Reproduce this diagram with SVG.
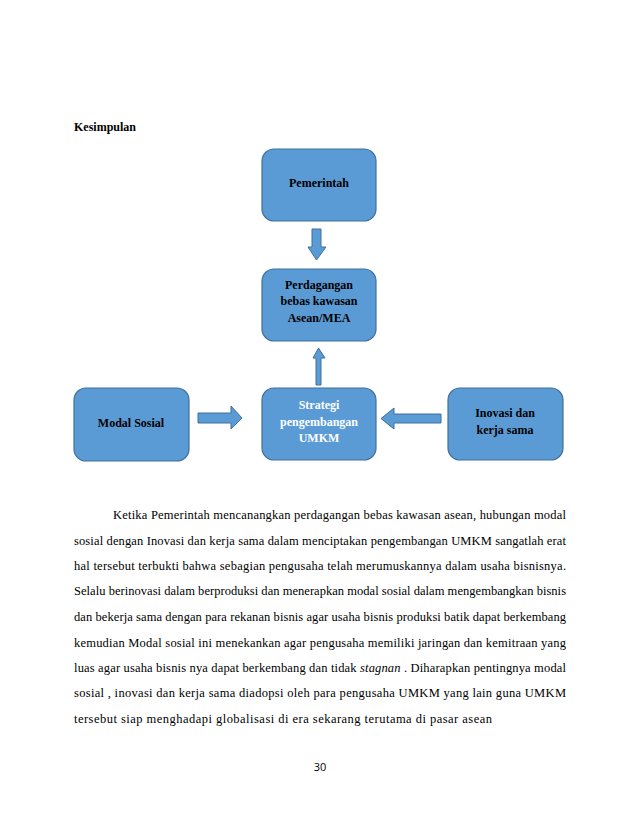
<svg xmlns="http://www.w3.org/2000/svg" width="638" height="826" viewBox="0 0 638 826">
<style>
.box{fill:#5B9BD5;stroke:#41719C;stroke-width:1.2}
.arr{fill:#5B9BD5;stroke:#41719C;stroke-width:1}
.nt{font-family:"Liberation Serif","Times New Roman",serif;font-size:12px;font-weight:bold;fill:#000;text-anchor:middle}
.wt{fill:#fff}
.p{font-family:"Liberation Serif","Times New Roman",serif;font-size:12.5px;fill:#000}
</style>
<rect width="638" height="826" fill="#fff"/>
<text x="74" y="131" font-family="Liberation Serif, Times New Roman, serif" font-size="12" font-weight="bold">Kesimpulan</text>
<g id="connectors">
<polygon class="arr" points="312,229 321,229 321,247 326,247 316.5,260 308,247 312,247"/>
<polygon class="arr" points="316,385 321,385 321,358 325,358 318.5,348 313,358 316,358"/>
<polygon class="arr" points="198,413 231,413 231,406 242,418 231,429 231,423 198,423"/>
<polygon class="arr" points="441,414 394,414 394,408 381,418.5 394,429 394,423 441,423"/>
</g>
<g id="pemerintah"><rect class="box" x="262" y="149" width="114" height="72" rx="12"/><text class="nt" x="319" y="187">Pemerintah</text></g>
<g id="perdagangan"><rect class="box" x="262" y="269" width="114" height="72" rx="12"/><text class="nt" x="319" y="289">Perdagangan</text><text class="nt" x="319" y="305">bebas kawasan</text><text class="nt" x="319" y="322">Asean/MEA</text></g>
<g id="strategi"><rect class="box" x="262" y="388" width="114" height="72" rx="12"/><text class="nt wt" x="319" y="409">Strategi</text><text class="nt wt" x="319" y="426">pengembangan</text><text class="nt wt" x="319" y="442">UMKM</text></g>
<g id="modal"><rect class="box" x="74" y="388" width="115" height="73" rx="12"/><text class="nt" x="131" y="427">Modal Sosial</text></g>
<g id="inovasi"><rect class="box" x="448" y="388" width="115" height="72" rx="12"/><text class="nt" x="505" y="417">Inovasi dan</text><text class="nt" x="505" y="434">kerja sama</text></g>
<g id="paragraph">
<text class="p" x="113" y="519" textLength="453" lengthAdjust="spacing">Ketika Pemerintah mencanangkan perdagangan bebas kawasan asean, hubungan modal</text>
<text class="p" x="74" y="545" textLength="492" lengthAdjust="spacing">sosial dengan Inovasi dan kerja sama dalam menciptakan pengembangan UMKM sangatlah erat</text>
<text class="p" x="74" y="570" textLength="492" lengthAdjust="spacing">hal tersebut terbukti bahwa sebagian pengusaha telah merumuskannya dalam usaha bisnisnya.</text>
<text class="p" x="74" y="595" textLength="492" lengthAdjust="spacing">Selalu berinovasi dalam berproduksi dan menerapkan modal sosial dalam mengembangkan  bisnis</text>
<text class="p" x="74" y="621" textLength="492" lengthAdjust="spacing">dan bekerja sama dengan para rekanan bisnis agar usaha bisnis produksi batik dapat berkembang</text>
<text class="p" x="74" y="647" textLength="492" lengthAdjust="spacing">kemudian  Modal sosial ini menekankan agar pengusaha memiliki jaringan dan kemitraan  yang</text>
<text class="p" x="74" y="672" textLength="492" lengthAdjust="spacing">luas agar usaha bisnis nya dapat berkembang dan tidak <tspan font-style="italic">stagnan</tspan> . Diharapkan  pentingnya modal</text>
<text class="p" x="74" y="697" textLength="492" lengthAdjust="spacing">sosial , inovasi dan kerja sama diadopsi oleh para pengusaha UMKM yang lain guna UMKM</text>
<text class="p" x="74" y="723" textLength="418" lengthAdjust="spacing">tersebut siap menghadapi  globalisasi di era sekarang terutama di pasar asean</text>
</g>
<text x="320" y="771" font-family="Open Sans, Liberation Sans, sans-serif" font-size="11" text-anchor="middle">30</text>
</svg>
